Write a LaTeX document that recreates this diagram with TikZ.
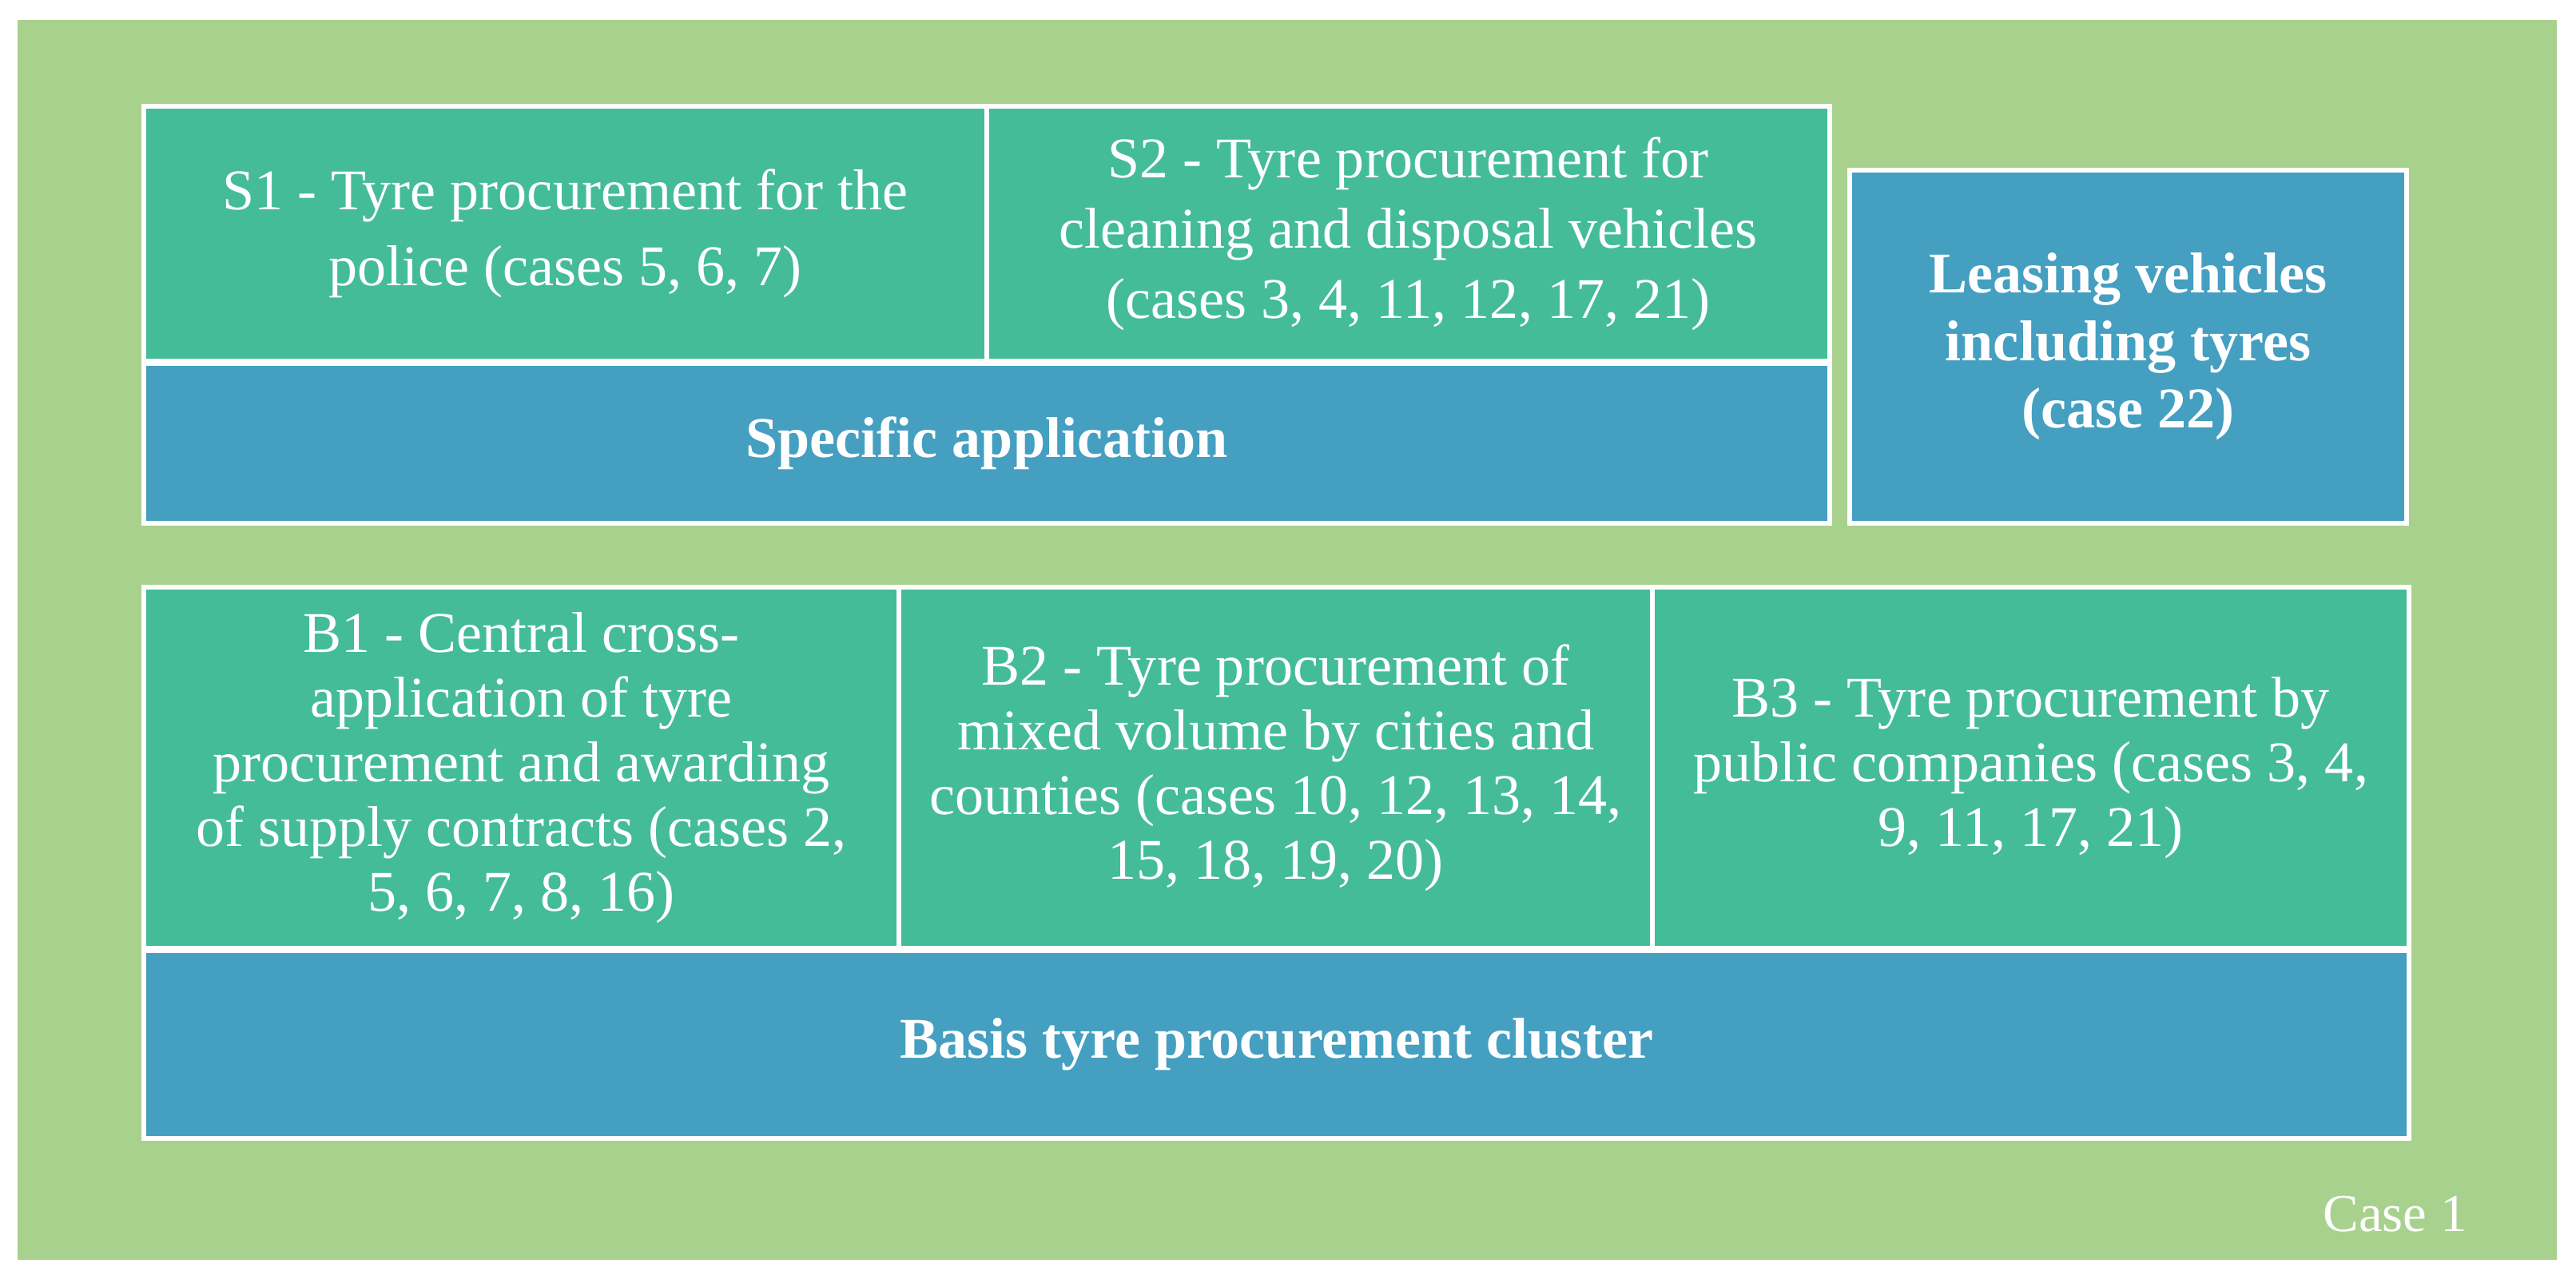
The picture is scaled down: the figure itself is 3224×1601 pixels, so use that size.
\documentclass[tikz,border=0pt]{standalone}
\usepackage{fontspec}
\setmainfont{Liberation Serif}
\definecolor{bgg}{HTML}{A9D18E}
\definecolor{teal}{HTML}{44BC98}
\definecolor{blu}{HTML}{449FC1}
\begin{document}
\begin{tikzpicture}[x=0.01cm,y=-0.01cm,
 box/.style={draw=white,line width=1.8pt,text=white,align=center,font=\fontsize{20.5}{23}\selectfont},
 tbox/.style={box,fill=teal},
 bbox/.style={box,fill=blu,font=\fontsize{20.5}{24}\selectfont\bfseries}]
\useasboundingbox (0,0) rectangle (3224,1601);
\fill[bgg] (22,25) rectangle (3200,1577);
\draw[tbox] (180,133) rectangle (1235,452) node[midway] (s1) {S1 - Tyre procurement for the\\[4pt]police (cases 5, 6, 7)};
\draw[tbox] (1235,133) rectangle (2290,452) node[midway] (s2) {S2 - Tyre procurement for\\[2pt]cleaning and disposal vehicles\\[2pt](cases 3, 4, 11, 12, 17, 21)};
\draw[bbox] (180,455) rectangle (2290,655) node[midway] (sp) {Specific application};
\draw[bbox] (2315,213) rectangle (3012,655) node[midway] (ls) {Leasing vehicles\\including tyres\\(case 22)};
\draw[tbox] (180,735) rectangle (1125,1187) node[midway] (b1) {B1 - Central cross-\\application of tyre\\procurement and awarding\\of supply contracts (cases 2,\\5, 6, 7, 8, 16)};
\draw[tbox] (1125,735) rectangle (2068,1187) node[midway] (b2) {B2 - Tyre procurement of\\mixed volume by cities and\\counties (cases 10, 12, 13, 14,\\15, 18, 19, 20)};
\draw[tbox] (2068,735) rectangle (3015,1187) node[midway] (b3) {B3 - Tyre procurement by\\public companies (cases 3, 4,\\9, 11, 17, 21)};
\draw[bbox] (180,1190) rectangle (3015,1425) node[midway] (bs) {Basis tyre procurement cluster};
\node[text=white,font=\fontsize{19}{22}\selectfont,anchor=east] (c1) at (3100,1520) {Case 1};
\end{tikzpicture}
\end{document}
